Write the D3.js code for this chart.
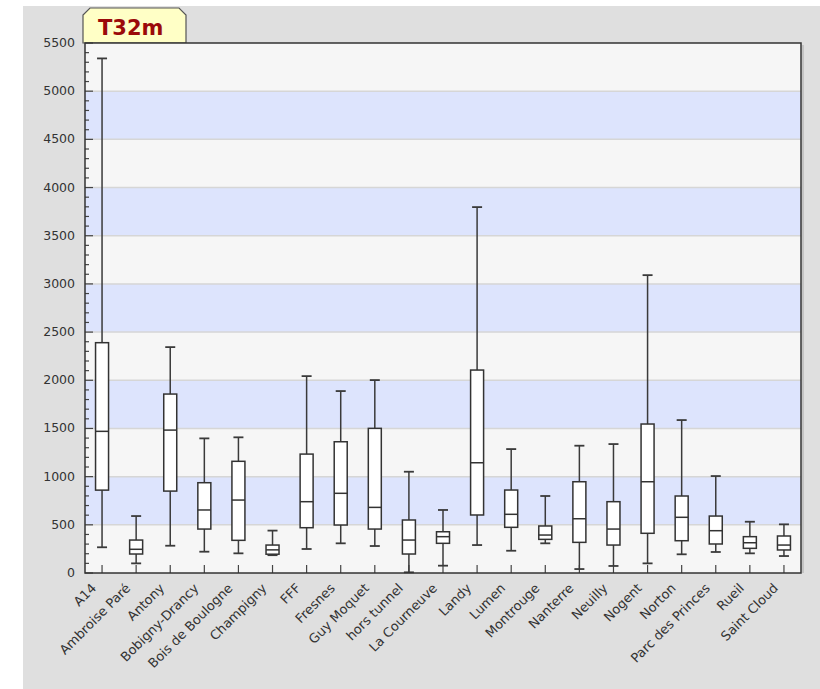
<!DOCTYPE html>
<html>
<head>
<meta charset="utf-8">
<script src="https://cdn.jsdelivr.net/npm/d3@7"></script>
<style>
  body { margin: 0; background: #fff; }
  text { font-family: "DejaVu Sans", Verdana, sans-serif; }
</style>
</head>
<body>
<svg id="chart" width="820" height="689"></svg>
<script>
// donnees
var categories = ["A14", "Ambroise Paré", "Antony", "Bobigny-Drancy", "Bois de Boulogne",
  "Champigny", "FFF", "Fresnes", "Guy Moquet", "hors tunnel", "La Courneuve", "Landy",
  "Lumen", "Montrouge", "Nanterre", "Neuilly", "Nogent", "Norton", "Parc des Princes",
  "Rueil", "Saint Cloud"];
var mins    = [267, 100, 283, 221, 204, 185, 249, 308, 280,    7,  76,  290, 231, 308,   41,   73,  100, 194,  218, 204, 176];
var q1s     = [860, 197, 850, 456, 339, 195, 470, 498, 456,  197, 308,  602, 474, 349,  318,  290,  412, 335,  301, 256, 239];
var medians = [1470, 246, 1483, 654, 757, 240, 740, 827, 681, 342, 377, 1144, 609, 394,  563,  456,  947, 578,  439, 314, 290];
var q3s     = [2390, 342, 1857, 937, 1159, 290, 1234, 1362, 1501, 550, 428, 2106, 861, 488, 947, 740, 1546, 799, 591, 377, 384];
var maxs    = [5340, 591, 2344, 1397, 1408, 440, 2043, 1888, 2002, 1051, 654, 3797, 1286, 799, 1321, 1338, 3091, 1587, 1006, 532, 505];
var yTicks = d3.range(0, 5501, 500);
var title = "T32m";

var margin = {left: 85, right: 19, top: 43, bottom: 116};
var width = 820 - margin.left - margin.right;
var height = 689 - margin.top - margin.bottom;

var svg = d3.select("#chart");

// fond gris
svg.append("rect")
  .attr("x", 23).attr("y", 6)
  .attr("width", 797).attr("height", 683)
  .attr("fill", "#dfdfdf");

// onglet du titre
svg.append("path")
  .attr("d", "M83,43 L83,15 L90,8 L179,8 L186,15 L186,43 Z")
  .attr("fill", "#ffffc6")
  .attr("stroke", "#555")
  .attr("stroke-width", 1.2);
svg.append("text")
  .attr("x", 98).attr("y", 35)
  .attr("font-family", "'Liberation Sans', Arial, sans-serif")
  .attr("font-weight", "bold")
  .attr("font-size", 21)
  .attr("fill", "#9b0a0a")
  .text(title);

var g = svg.append("g").attr("transform", "translate(" + margin.left + "," + margin.top + ")");

var x = d3.scaleBand().domain(categories).range([0, width]);
var y = d3.scaleLinear().domain([0, 5500]).range([height, 0]);

// bandes alternees
g.selectAll("rect.band")
  .data(d3.range(0, 5500, 500))
  .enter()
  .append("rect")
    .attr("class", "band")
    .attr("x", 0)
    .attr("width", width)
    .attr("y", function(d){ return y(d + 500); })
    .attr("height", function(d){ return y(d) - y(d + 500); })
    .attr("fill", function(d){ return (d / 500) % 2 == 1 ? "#dde4fd" : "#f6f6f6"; });

g.selectAll("line.grid")
  .data(yTicks.slice(1, -1))
  .enter()
  .append("line")
    .attr("class", "grid")
    .attr("x1", 0).attr("x2", width)
    .attr("y1", function(d){ return y(d); })
    .attr("y2", function(d){ return y(d); })
    .attr("stroke", "#d6d6d6")
    .attr("stroke-width", 1.5);

// axe y : graduations vers l'interieur
var minor = d3.range(0, 5501, 100);
g.selectAll("line.ytick")
  .data(minor)
  .enter()
  .append("line")
    .attr("x1", 0)
    .attr("x2", function(d){ return d % 500 == 0 ? 8 : 4; })
    .attr("y1", function(d){ return y(d); })
    .attr("y2", function(d){ return y(d); })
    .attr("stroke", "#444")
    .attr("stroke-width", 1.2);

g.selectAll("text.ylab")
  .data(yTicks)
  .enter()
  .append("text")
    .attr("x", -10)
    .attr("y", function(d){ return y(d) + 4; })
    .attr("text-anchor", "end")
    .attr("font-size", 12.5)
    .attr("fill", "#333")
    .text(function(d){ return d; });

// axe x
g.selectAll("line.xtick")
  .data(categories)
  .enter()
  .append("line")
    .attr("x1", function(d){ return x(d) + x.bandwidth() / 2; })
    .attr("x2", function(d){ return x(d) + x.bandwidth() / 2; })
    .attr("y1", height)
    .attr("y2", height - 8)
    .attr("stroke", "#444")
    .attr("stroke-width", 1.2);

g.selectAll("text.xlab")
  .data(categories)
  .enter()
  .append("text")
    .attr("text-anchor", "end")
    .attr("font-size", 13)
    .attr("fill", "#333")
    .attr("transform", function(d){
      var cx = x(d) + x.bandwidth() / 2 - 5;
      return "translate(" + cx + "," + (height + 16) + ") rotate(-45)";
    })
    .text(function(d){ return d; });

// boites a moustaches
var boxW = 13, capW = 10;
var boxes = g.selectAll("g.box")
  .data(categories)
  .enter()
  .append("g")
    .attr("class", "box")
    .attr("transform", function(d){ return "translate(" + (x(d) + x.bandwidth() / 2) + ",0)"; });

boxes.append("line")
  .attr("x1", 0).attr("x2", 0)
  .attr("y1", function(d, i){ return y(maxs[i]); })
  .attr("y2", function(d, i){ return y(mins[i]); })
  .attr("stroke", "#3a3a3a")
  .attr("stroke-width", 1.5);

boxes.append("line")
  .attr("x1", -capW / 2).attr("x2", capW / 2)
  .attr("y1", function(d, i){ return y(maxs[i]); })
  .attr("y2", function(d, i){ return y(maxs[i]); })
  .attr("stroke", "#3a3a3a")
  .attr("stroke-width", 1.8);

boxes.append("line")
  .attr("x1", -capW / 2).attr("x2", capW / 2)
  .attr("y1", function(d, i){ return y(mins[i]); })
  .attr("y2", function(d, i){ return y(mins[i]); })
  .attr("stroke", "#3a3a3a")
  .attr("stroke-width", 1.8);

boxes.append("rect")
  .attr("x", -boxW / 2)
  .attr("width", boxW)
  .attr("y", function(d, i){ return y(q3s[i]); })
  .attr("height", function(d, i){ return y(q1s[i]) - y(q3s[i]); })
  .attr("fill", "#fff")
  .attr("stroke", "#333")
  .attr("stroke-width", 1.5);

boxes.append("line")
  .attr("x1", -boxW / 2).attr("x2", boxW / 2)
  .attr("y1", function(d, i){ return y(medians[i]); })
  .attr("y2", function(d, i){ return y(medians[i]); })
  .attr("stroke", "#333")
  .attr("stroke-width", 1.5);

// cadre
g.append("rect")
  .attr("x", 0).attr("y", 0)
  .attr("width", width).attr("height", height)
  .attr("fill", "none")
  .attr("stroke", "#333")
  .attr("stroke-width", 1.5);
g.append("line")
  .attr("x1", width + 2).attr("x2", width + 2)
  .attr("y1", 2).attr("y2", height)
  .attr("stroke", "#bbb")
  .attr("stroke-width", 1.5);
</script>
</body>
</html>
